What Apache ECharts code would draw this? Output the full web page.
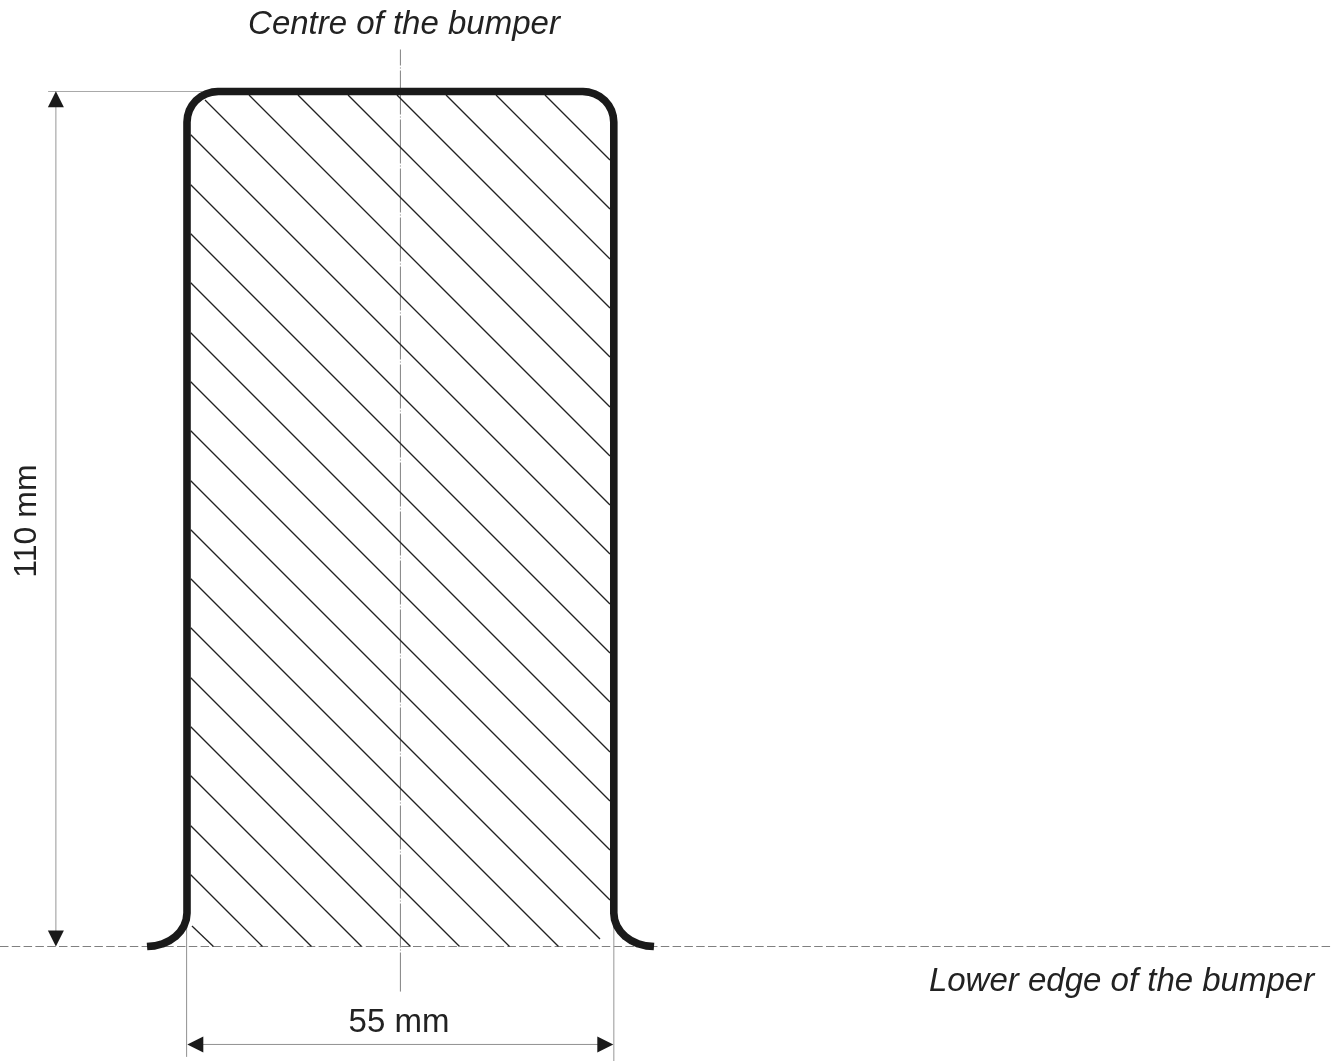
<!DOCTYPE html>
<html>
<head>
<meta charset="utf-8">
<style>html,body{margin:0;padding:0;background:#fff}#c{width:1331px;height:1061px}</style>
<script src="https://cdn.jsdelivr.net/npm/echarts@6/dist/echarts.min.js"></script>
</head>
<body>
<div id="c"></div>
<script>
// All geometry is in millimetres: x from the left face of the bumper, y from its lower edge.
const bumperOutline = [
  [-5.15,0],[-4.15,0.08],[-3.18,0.33],[-2.29,0.73],[-1.51,1.26],[-0.87,1.91],[-0.39,2.66],[-0.1,3.47],[0,4.31],
  [0,106.07],[0.08,106.84],[0.3,107.57],[0.67,108.25],[1.17,108.85],[1.78,109.34],[2.47,109.7],[3.22,109.92],[4,110],
  [51,110],[51.78,109.92],[52.53,109.7],[53.22,109.34],[53.83,108.85],[54.33,108.25],[54.7,107.57],[54.92,106.84],[55,106.07],
  [55,4.31],[55.1,3.47],[55.39,2.66],[55.87,1.91],[56.51,1.26],[57.29,0.73],[58.18,0.33],[59.15,0.08],[60.18,0]
];
const hatchFrom = [
  [46.13,109.55],[39.82,109.55],[33.38,109.55],[27.06,109.55],[20.75,109.55],
  [14.3,109.55],[7.99,109.55],[2.32,108.9],[0.48,104.44],[0.48,98.01],
  [0.48,91.7],[0.48,85.4],[0.48,78.97],[0.48,72.66],[0.48,66.36],
  [0.48,59.93],[0.48,53.62],[0.48,47.32],[0.48,41.01],[0.48,34.58],
  [0.48,28.28],[0.48,21.97],[0.48,15.54],[0.48,9.24],[0.64,2.64]
];
const hatchTo = [
  [54.51,101.18],[54.51,94.88],[54.51,88.45],[54.51,82.14],[54.51,75.84],
  [54.51,69.41],[54.51,63.1],[54.51,56.8],[54.51,50.5],[54.51,44.06],
  [54.51,37.76],[54.51,31.45],[54.51,25.02],[54.51,18.72],[54.51,12.41],
  [54.51,5.98],[53.22,0.96],[47.87,0],[41.56,0],[35.12,0],
  [28.8,0],[22.49,0],[16.04,0],[9.73,0],[3.41,0]
];
const lowerEdge = [[-24.1,0],[147.42,0]];
const centreLine = [[27.5,115.4],[27.5,-5.8]];
const extTop = [[-17.9,110],[2,110]];
const extLeft = [[-0.05,3.5],[-0.05,-14.2]];
const extRight = [[55,3.5],[55,-14.73]];
const dimHeight = [[-16.9,108],[-16.9,2]];
const dimWidth = [[2,-12.6],[53,-12.6]];
const arrowUp = [[-16.9,109]];
const arrowDown = [[-16.9,1.03]];
const arrowLeft = [[1.07,-12.6]];
const arrowRight = [[53.91,-12.6]];
const labelTexts = ['Centre of the bumper','Lower edge of the bumper','55 mm','110 mm'];
const labelAt = [[27.96,118.64],[120.43,-4.48],[27.32,-9.88],[-20.62,54.74]];

const ink = '#1a1a1a', thin = '#a8a8a8', dash = '#808080';
const font = '"Liberation Sans", Arial, sans-serif';
const lineSeries = (data, color, width, type, z, extra) => Object.assign({
  type: 'line', data, showSymbol: false, symbol: 'none', silent: true, z,
  lineStyle: { color, width, type: type || 'solid', cap: 'butt', join: 'round' }
}, extra || {});
const arrowSeries = (data, rotate) => ({
  type: 'scatter', data, symbol: 'triangle', symbolSize: 16, symbolRotate: rotate,
  itemStyle: { color: ink, opacity: 1 }, silent: true, z: 6
});
const textSeries = (i, style, rotate) => ({
  type: 'scatter', data: [labelAt[i]], symbolSize: 0, silent: true, z: 7,
  itemStyle: { opacity: 1 },
  label: Object.assign({
    show: true, position: 'inside', formatter: labelTexts[i], rotate: rotate || 0,
    color: '#222', fontFamily: font, fontSize: 33, align: 'center', verticalAlign: 'middle'
  }, style)
});

const series = [];
hatchFrom.forEach((p, i) => series.push(lineSeries([p, hatchTo[i]], '#222', 1.3, 'solid', 3)));
series.push(
  lineSeries(lowerEdge, dash, 1, [8.5, 3.3], 2),
  lineSeries(centreLine, dash, 1, [44, 2, 1, 2], 2, { lineStyle: { color: dash, width: 1, type: [44, 2, 1, 2], dashOffset: 28 } }),
  lineSeries(extTop, thin, 1, 'solid', 2),
  lineSeries(extLeft, '#909090', 1, 'solid', 2),
  lineSeries(extRight, thin, 1.2, 'solid', 2),
  lineSeries(dimHeight, thin, 1.2, 'solid', 2),
  lineSeries(dimWidth, '#909090', 1, 'solid', 2),
  lineSeries(bumperOutline, ink, 7.6, 'solid', 5),
  arrowSeries(arrowUp, 0),
  arrowSeries(arrowDown, 180),
  arrowSeries(arrowLeft, 90),
  arrowSeries(arrowRight, -90),
  textSeries(0, { fontStyle: 'italic' }),
  textSeries(1, { fontStyle: 'italic' }),
  textSeries(2, {}),
  textSeries(3, { fontSize: 32 }, 90)
);

const chart = echarts.init(document.getElementById('c'), null, { renderer: 'canvas' });
chart.setOption({
  backgroundColor: '#fff',
  animation: false,
  tooltip: { show: false },
  grid: { left: 0, right: 0, top: 0, bottom: 0 },
  xAxis: { type: 'value', min: -24.098, max: 147.423, show: false },
  yAxis: { type: 'value', min: -14.73, max: 121.77, show: false },
  series
});
</script>
</body>
</html>
